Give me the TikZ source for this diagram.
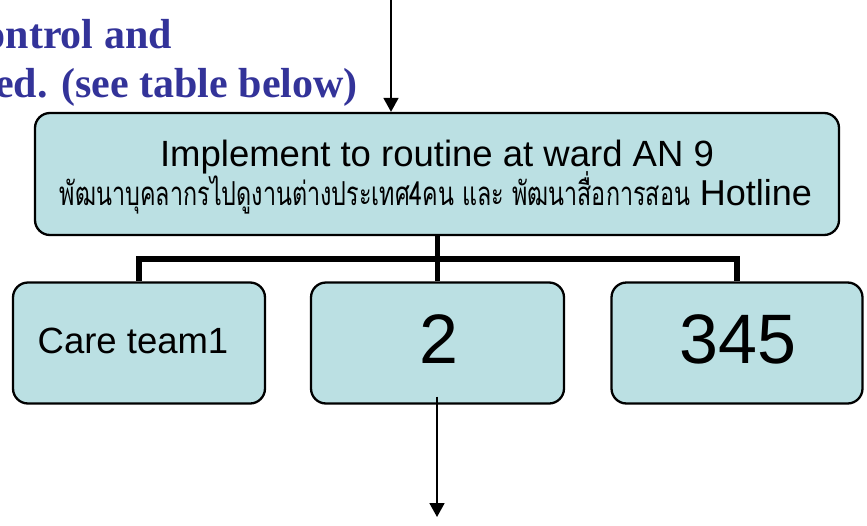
\documentclass[tikz,border=0pt]{standalone}
\usepackage{fontspec}
\usepackage{graphicx}
\setmainfont{Liberation Sans}
\newfontfamily\thaifont[Script=Thai]{Loma}
\newfontfamily\titleserif{Liberation Serif}
\usetikzlibrary{arrows.meta}
\definecolor{boxfill}{RGB}{187,224,227}
\definecolor{titleblue}{RGB}{51,51,153}
\begin{document}
\begin{tikzpicture}[x=1pt,y=-1pt,
  box/.style={draw=black, line width=2.3pt, fill=boxfill, rounded corners=15pt, inner sep=0pt},
  conn/.style={line width=5.5pt},
  arr/.style={line width=1.8pt, -{Triangle[width=15pt,length=14pt]}},
  title/.style={anchor=base east, text=titleblue, font=\titleserif\bfseries\fontsize{42}{42}\selectfont, inner sep=0pt},
  lbl/.style={anchor=base, inner sep=0pt}]
\useasboundingbox (0,0) rectangle (867,525);
% boxes
\node[box, minimum width=804pt, minimum height=122pt] (top) at (437,174) {};
\node[box, minimum width=252pt, minimum height=121pt] (c1) at (139,343) {};
\node[box, minimum width=253pt, minimum height=121pt] (c2) at (437.5,343) {};
\node[box, minimum width=251pt, minimum height=121pt] (c3) at (737,343) {};
% texts
\node[title] (h1) at (172,48) {ontrol and};
\node[title] (h2) at (358,97) {ed. (see table below)};
\node[lbl, font=\fontsize{36.5}{40}\selectfont] (l1) at (437,166) {Implement to routine at ward AN 9};
\node[lbl] (l2) at (436,205) {\resizebox{630pt}{\height}{\thaifont\fontsize{33}{35}\selectfont พัฒนาบุคลากรไปดูงานต่างประเทศ4คน และ พัฒนาสื่อการสอน}\fontsize{36}{40}\selectfont\ Hotline};
\node[lbl, font=\fontsize{36.5}{40}\selectfont] (t1) at (133,353) {Care team1};
\node[lbl, font=\fontsize{70}{74}\selectfont] (t2) at (439,363) {2};
\node[lbl, font=\fontsize{70}{74}\selectfont] (t3) at (738,363) {345};
% connectors
\coordinate (bar) at (437.5,259);
\draw[conn] (top.south -| c2.north) -- (c2.north);
\draw[conn] (c1.north) -- (c1.north |- bar) -- (c3.north |- bar) -- (c3.north);
% arrows
\coordinate (src) at (391,0);
\draw[arr] (src) -- (src |- top.north);
\coordinate (sink) at (437,517);
\draw[arr] ([yshift=8pt]c2.south -| sink) -- (sink);
\end{tikzpicture}
\end{document}
